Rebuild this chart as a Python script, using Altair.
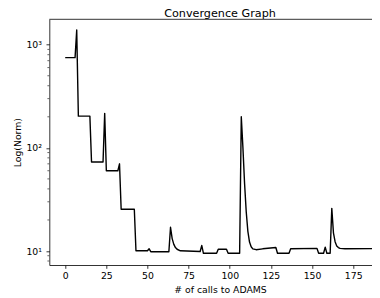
import altair as alt
import pandas as pd

# ---- data ----
calls = [0, 6, 7, 8, 15, 16, 23, 24, 25, 32, 33, 34, 42, 43, 50, 51, 52, 63, 64, 65,
         66, 67, 68, 70, 82, 83, 84, 92, 93, 98, 99, 106, 107, 108, 109, 110, 111, 112,
         113, 114, 116, 120, 128, 129, 136, 137, 153, 154, 157, 158, 159, 161, 162, 163,
         164, 165, 166, 167, 170, 188]
norms = [750, 750, 1390, 203, 203, 73, 73, 216, 60, 60, 70, 25.4, 25.4, 10.05, 10.05, 10.5,
         9.85, 9.85, 17.0, 13.2, 11.6, 10.8, 10.4, 10.05, 9.9, 11.3, 9.5, 9.5, 10.4, 10.4,
         9.5, 9.5, 200, 100, 45, 24, 15.5, 12.2, 11.0, 10.5, 10.3, 10.5, 10.8, 9.5, 9.5,
         10.5, 10.6, 9.5, 9.5, 10.9, 9.5, 9.5, 25.9, 15.0, 12.3, 11.2, 10.8, 10.6, 10.5,
         10.55]
x_ticks = [0, 25, 50, 75, 100, 125, 150, 175]
y_major = [10, 100, 1000]
y_minor = [8, 9, 20, 30, 40, 50, 60, 70, 80, 90, 200, 300, 400, 500, 600, 700, 800, 900]

PX_PER_UNIT = 1.6457
PLOT_W = 322.7
PLOT_H = 245.7
X_MIN = -9.66
X_DOM = [X_MIN, X_MIN + PLOT_W / PX_PER_UNIT]
Y_DOM = [7.317, 1763]

df = pd.DataFrame({"calls": calls, "norm": norms})
minor_df = pd.DataFrame({"norm": y_minor})
spine_df = pd.DataFrame({"k": [0]})

x_scale = alt.Scale(domain=X_DOM, nice=False, zero=False)
y_scale = alt.Scale(type="log", domain=Y_DOM, nice=False)

sup_expr = ("datum.value == 10 ? '10\u00b9' : datum.value == 100 ? '10\u00b2' : "
            "datum.value == 1000 ? '10\u00b3' : ''")

y_axis = alt.Axis(values=y_major, labelExpr=sup_expr, title="Log(Norm)",
                  labelPadding=4.5, labelOverlap=False, labelFlush=False,
                  titleX=-29.2, titleY=PLOT_H / 2, titleAngle=270,
                  titleBaseline="alphabetic", titleAlign="center")

line = alt.Chart(df).mark_line(color="black", strokeWidth=1.4, strokeJoin="round",
                               clip=True).encode(
    x=alt.X("calls:Q", scale=x_scale,
            axis=alt.Axis(values=x_ticks, format="d", title="# of calls to ADAMS",
                          labelPadding=2.8, labelFlush=False, labelOverlap=False,
                          titleX=170.7, titleY=27, titleBaseline="alphabetic",
                          titleAlign="center")),
    y=alt.Y("norm:Q", scale=y_scale, axis=y_axis),
)

minor = alt.Chart(minor_df).mark_rule(color="black", strokeWidth=0.6).encode(
    y=alt.Y("norm:Q", scale=y_scale, axis=y_axis),
    x=alt.value(-1.9),
    x2=alt.value(0),
)

top_spine = alt.Chart(spine_df).mark_rule(color="black", strokeWidth=0.8).encode(
    x=alt.value(0),
    x2=alt.value(PLOT_W),
    y=alt.value(0),
)

chart = alt.layer(line, minor, top_spine).properties(
    width=PLOT_W,
    height=PLOT_H,
    autosize=alt.AutoSizeParams(type="none"),
    padding={"left": 41.3, "top": 11.3, "right": 0, "bottom": 33},
    title=alt.Title("Convergence Graph", anchor="middle", dx=9.35, dy=12.8, offset=3.5,
                    baseline="alphabetic", frame="group"),
    background="white",
).configure_view(
    stroke=None
).configure_axis(
    grid=False, domainColor="black", domainWidth=0.8, tickColor="black",
    tickWidth=0.8, tickSize=3.3, labelFont="DejaVu Sans", labelFontSize=9.3,
    labelColor="black", titleFont="DejaVu Sans", titleFontSize=9.3,
    titleColor="black", titleFontWeight="normal"
).configure_title(
    font="DejaVu Sans", fontSize=11.2, fontWeight="normal", color="black"
)

chart.save("out.html", embed_options={"renderer": "svg", "actions": False})
